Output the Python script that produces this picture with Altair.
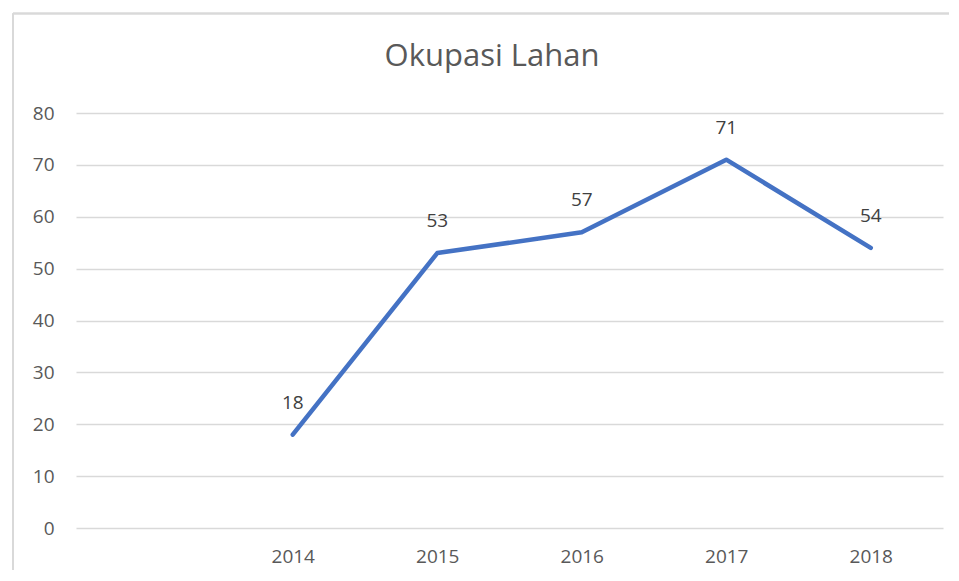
import altair as alt
import pandas as pd

categories = ["", "2014", "2015", "2016", "2017", "2018"]
years = ["2014", "2015", "2016", "2017", "2018"]
values = [18, 53, 57, 71, 54]

df = pd.DataFrame({"year": years, "value": values})

W, H = 867, 415
FONT = "Open Sans"
FS = 19

xs = alt.Scale(domain=categories, type="point", padding=0.5)
x = alt.X("year:O", scale=xs,
          axis=alt.Axis(title=None, domain=False, ticks=False, grid=False, labelAngle=0,
                        labelPadding=19, labelFontSize=FS, labelColor="#595959", labelFont=FONT))
y = alt.Y("value:Q", scale=alt.Scale(domain=[0, 80], nice=False),
          axis=alt.Axis(title=None, values=list(range(0, 81, 10)), domain=False, ticks=False,
                        labelPadding=22, labelFontSize=FS, labelColor="#595959", labelFont=FONT,
                        gridColor="#d9d9d9", gridWidth=1.5))

base = alt.Chart(df)
line = base.mark_line(color="#4472C4", strokeWidth=4.5, strokeCap="round", strokeJoin="round").encode(x=x, y=y)
labels = base.mark_text(dy=-32, fontSize=FS, color="#404040", font=FONT, baseline="middle").encode(
    x=alt.X("year:O", scale=xs), y="value:Q", text="value:Q")

border_left = base.mark_rule(color="#d9d9d9", strokeWidth=1.5).encode(
    x=alt.value(-63), y=alt.value(-99.5), y2=alt.value(H + 42))
border_top = base.mark_rule(color="#d9d9d9", strokeWidth=1.5).encode(
    x=alt.value(-63), x2=alt.value(W + 6), y=alt.value(-99.5))

chart = alt.layer(border_left, border_top, line, labels).properties(
    width=W, height=H,
    title=alt.TitleParams("Okupasi Lahan", fontSize=31, font=FONT, fontWeight="normal",
                          color="#595959", offset=-60, dx=-17.5, anchor="middle"),
    padding={"left": 4, "top": 4, "right": 0, "bottom": 0},
).configure_view(stroke=None)

chart.save("out.html", embed_options={"renderer": "svg", "actions": False})
